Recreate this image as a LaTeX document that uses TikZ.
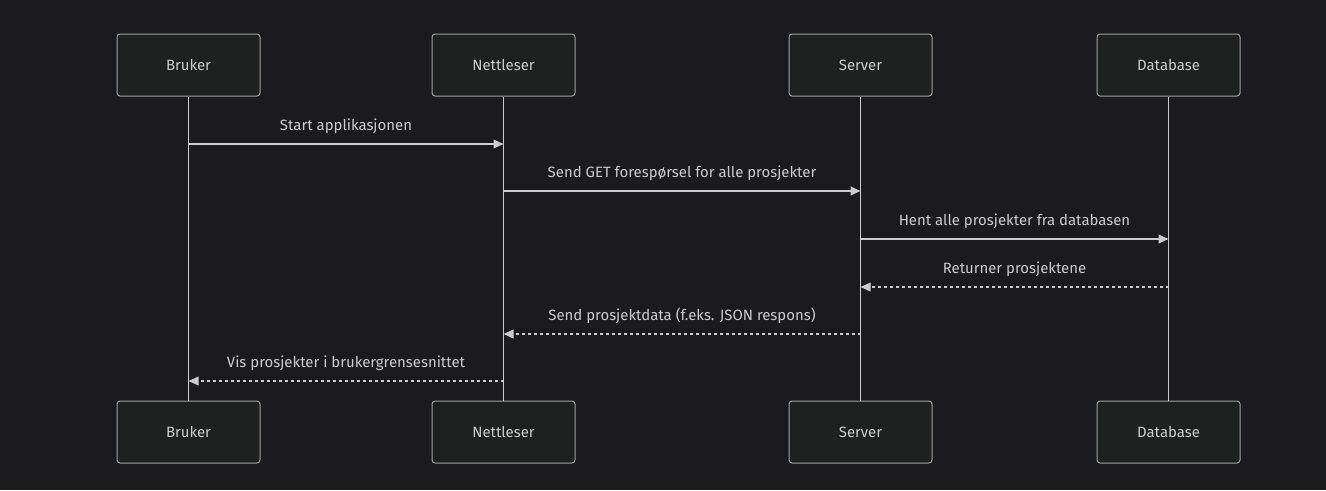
\documentclass[tikz,border=0pt]{standalone}
\usepackage{fontspec}
\setmainfont{Fira Sans}
\usetikzlibrary{arrows.meta, positioning}

\definecolor{bgcol}{RGB}{27,27,31}
\definecolor{boxfill}{RGB}{31,32,32}
\definecolor{boxline}{RGB}{160,160,160}
\definecolor{inkcol}{RGB}{204,204,204}

\begin{document}
\begin{tikzpicture}[
  x=0.75pt, y=-0.75pt,
  node distance=228pt,
  actor/.style={rectangle, draw=boxline, fill=boxfill, rounded corners=2.25pt, line width=0.75pt,
    minimum width=107.25pt, minimum height=46.5pt, text=inkcol, font=\fontsize{11.2}{13}\selectfont},
  life/.style={draw=inkcol, line width=1.2pt},
  msg/.style={draw=inkcol, line width=1.2pt, -{Triangle[length=7.5pt, width=6.5pt]}},
  reply/.style={msg, dash pattern=on 2.25pt off 2.25pt},
  lbl/.style={text=inkcol, font=\fontsize{11.2}{13}\selectfont, above=4pt, text height=8pt, text depth=2.5pt},
]

% Background
\fill[bgcol] (0,0) rectangle (1326,490);

% Participants
\node[actor] (bruker) at (188.5,65) {Bruker};
\node[actor] (nettleser) at (503.5,65) {Nettleser};
\node[actor] (server) at (860.5,65) {Server};
\node[actor] (database) at (1168.5,65) {Database};

\node[actor, below=of bruker] (brukerB) {Bruker};
\node[actor, below=of nettleser] (nettleserB) {Nettleser};
\node[actor, below=of server] (serverB) {Server};
\node[actor, below=of database] (databaseB) {Database};

% Lifelines
\draw[life] (bruker) -- (brukerB);
\draw[life] (nettleser) -- (nettleserB);
\draw[life] (server) -- (serverB);
\draw[life] (database) -- (databaseB);

% Messages
\draw[msg] (bruker |- 0,144) -- (nettleser |- 0,144) node[lbl, midway] {Start applikasjonen};
\draw[msg] (nettleser |- 0,191) -- (server |- 0,191) node[lbl, midway] {Send GET forespørsel for alle prosjekter};
\draw[msg] (server |- 0,239) -- (database |- 0,239) node[lbl, midway] {Hent alle prosjekter fra databasen};
\draw[reply] (database |- 0,287) -- (server |- 0,287) node[lbl, midway] {Returner prosjektene};
\draw[reply] (server |- 0,334) -- (nettleser |- 0,334) node[lbl, midway] {Send prosjektdata (f.eks. JSON respons)};
\draw[reply] (nettleser |- 0,381) -- (bruker |- 0,381) node[lbl, midway] {Vis prosjekter i brukergrensesnittet};

\end{tikzpicture}
\end{document}
